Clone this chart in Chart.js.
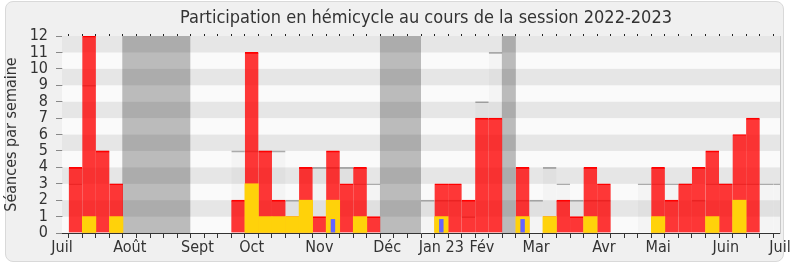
<!DOCTYPE html>
<html>
<head>
<meta charset="utf-8">
<script src="https://cdn.jsdelivr.net/npm/chart.js@4.4.0/dist/chart.umd.min.js"></script>
<style>
  body { margin: 0; background: #fff; }
  #panel { position: absolute; left: 5px; top: 1px; width: 777px; height: 259px;
           border: 1px solid #d9d9d9; border-radius: 8px; background: #f0f0f0; }
  #chart { position: absolute; left: 0; top: 0; }
</style>
</head>
<body>
<div id="panel"></div>
<canvas id="chart" width="790" height="267"></canvas>
<script>
// weeks of the session, index 0..53 (one slot per week)
const weeks = [];
for (let i = 0; i <= 53; i++) weeks.push(String(i));

// month labels, placed on the week index where they appear
const monthWeek = [0, 5, 10, 14, 19, 24, 28, 31, 35, 40, 44, 49, 53];
const monthName = ['Juil', 'Août', 'Sept', 'Oct', 'Nov', 'Déc', 'Jan 23', 'Fév', 'Mar', 'Avr', 'Mai', 'Juin', 'Juil'];

// vacation periods (in week units)
const vacStart = [4.45, 23.47, 32.47];
const vacEnd = [9.47, 26.5, 33.5];

// séances par semaine, by week index (null = nothing)
const presences = [null,4,12,5,3,null,null,null,null,null,null,null,null,2,11,5,2,1,4,1,5,3,4,1,
  null,null,null,null,3,3,2,7,7,null,4,null,1,2,1,4,3,null,null,null,4,2,3,4,5,3,6,7,null,null];
const interventions = [null,null,1,null,1,null,null,null,null,null,null,null,null,null,3,1,1,1,2,null,2,null,1,null,
  null,null,null,null,1,null,null,null,null,null,1,null,1,null,null,1,null,null,null,null,1,null,null,null,1,null,2,null,null,null];
const questions = [null,null,null,null,null,null,null,null,null,null,null,null,null,null,null,null,null,null,null,null,0.85,null,null,null,
  null,null,null,null,0.85,null,null,null,null,null,0.85,null,null,null,null,null,null,null,null,null,null,null,null,null,null,null,null,null,null,null];
const totalSeances = [null,3,9,5,3,null,null,null,null,null,null,null,null,5,5,5,5,2,4,4,4,4,3,3,
  null,null,null,2,2,2,1,8,11,null,2,2,4,3,2,2,2,null,null,3,3,3,3,2,3,3,3,3,3,3];

const FONT = 'DejaVu Sans Condensed';

const background = {
  id: 'background',
  beforeDatasetsDraw(chart) {
    const { ctx, chartArea: a, scales } = chart;
    const y = scales.y, x = scales.x;
    ctx.save();
    for (let v = 0; v < 12; v++) {
      ctx.fillStyle = v % 2 ? '#e6e6e6' : '#fafafa';
      const top = y.getPixelForValue(v + 1), bot = y.getPixelForValue(v);
      ctx.fillRect(a.left, top, a.right - a.left, bot - top);
    }
    ctx.fillStyle = 'rgba(0,0,0,0.25)';
    vacStart.forEach((s, i) => {
      const x0 = x.getPixelForValue(s), x1 = x.getPixelForValue(vacEnd[i]);
      ctx.fillRect(x0, a.top, x1 - x0, a.bottom - a.top);
    });
    ctx.restore();
  },
  afterDraw(chart) {
    const { ctx, chartArea: a } = chart;
    ctx.save();
    ctx.font = '18px "' + FONT + '"';
    ctx.fillStyle = '#333';
    ctx.textAlign = 'center';
    ctx.textBaseline = 'middle';
    ctx.fillText('Participation en hémicycle au cours de la session 2022-2023', (a.left + a.right) / 2 + 5, 18);
    ctx.restore();
  }
};

new Chart(document.getElementById('chart'), {
  type: 'bar',
  data: {
    labels: weeks,
    datasets: [
      { label: 'Questions orales', data: questions, backgroundColor: '#6464ff',
        grouped: false, categoryPercentage: 1, barPercentage: 0.33 },
      { label: 'Interventions', data: interventions, backgroundColor: '#ffd20a',
        grouped: false, categoryPercentage: 1, barPercentage: 1 },
      { label: 'Présences', data: presences, backgroundColor: 'rgba(255,0,0,0.78)',
        borderColor: '#ff0000', borderWidth: { top: 1, left: 0, right: 0, bottom: 0 }, borderSkipped: false,
        grouped: false, categoryPercentage: 1, barPercentage: 1 },
      { label: 'Séances', data: totalSeances, backgroundColor: 'rgba(0,0,0,0.025)',
        borderColor: 'rgba(0,0,0,0.3)', borderWidth: { top: 1, left: 0, right: 0, bottom: 0 }, borderSkipped: false,
        grouped: false, categoryPercentage: 1, barPercentage: 1 }
    ]
  },
  options: {
    responsive: false,
    animation: false,
    layout: { padding: 0 },
    plugins: { legend: { display: false }, tooltip: { enabled: false } },
    scales: {
      x: {
        type: 'category',
        offset: false,
        afterFit(s) { s.height = 34; s.paddingLeft = 0; s.paddingRight = 0; },
        grid: { drawOnChartArea: false, drawTicks: true, tickLength: 5, color: '#333' },
        border: { display: true, color: '#333' },
        ticks: {
          autoSkip: false, maxRotation: 0, padding: 0, color: '#333',
          font: { family: FONT, size: 16 },
          callback: (v, i) => { const k = monthWeek.indexOf(i); return k < 0 ? '' : monthName[k]; }
        }
      },
      x2: {
        type: 'category',
        position: 'top',
        offset: false,
        afterFit(s) { s.height = 36; s.paddingLeft = 0; s.paddingRight = 0; },
        grid: { drawOnChartArea: false, drawTicks: true, tickLength: 2, color: '#222' },
        border: { display: false },
        ticks: { display: false, autoSkip: false }
      },
      y: {
        min: 0, max: 12,
        afterFit(s) { s.width = 62; },
        grid: { drawOnChartArea: false, tickLength: 6, color: '#888' },
        border: { display: true, color: '#333' },
        ticks: { stepSize: 1, autoSkip: false, padding: 8, color: '#333', font: { family: FONT, size: 16 } },
        title: { display: true, text: 'Séances par semaine', color: '#333',
                 font: { family: FONT, size: 16 }, padding: { top: 2, bottom: 0 } }
      },
      y2: {
        min: 0, max: 12,
        position: 'right',
        afterFit(s) { s.width = 10; },
        grid: { drawOnChartArea: false, drawTicks: false },
        border: { display: true, color: '#c8c8c8' },
        ticks: { display: false }
      }
    }
  },
  plugins: [background]
});
</script>
</body>
</html>
